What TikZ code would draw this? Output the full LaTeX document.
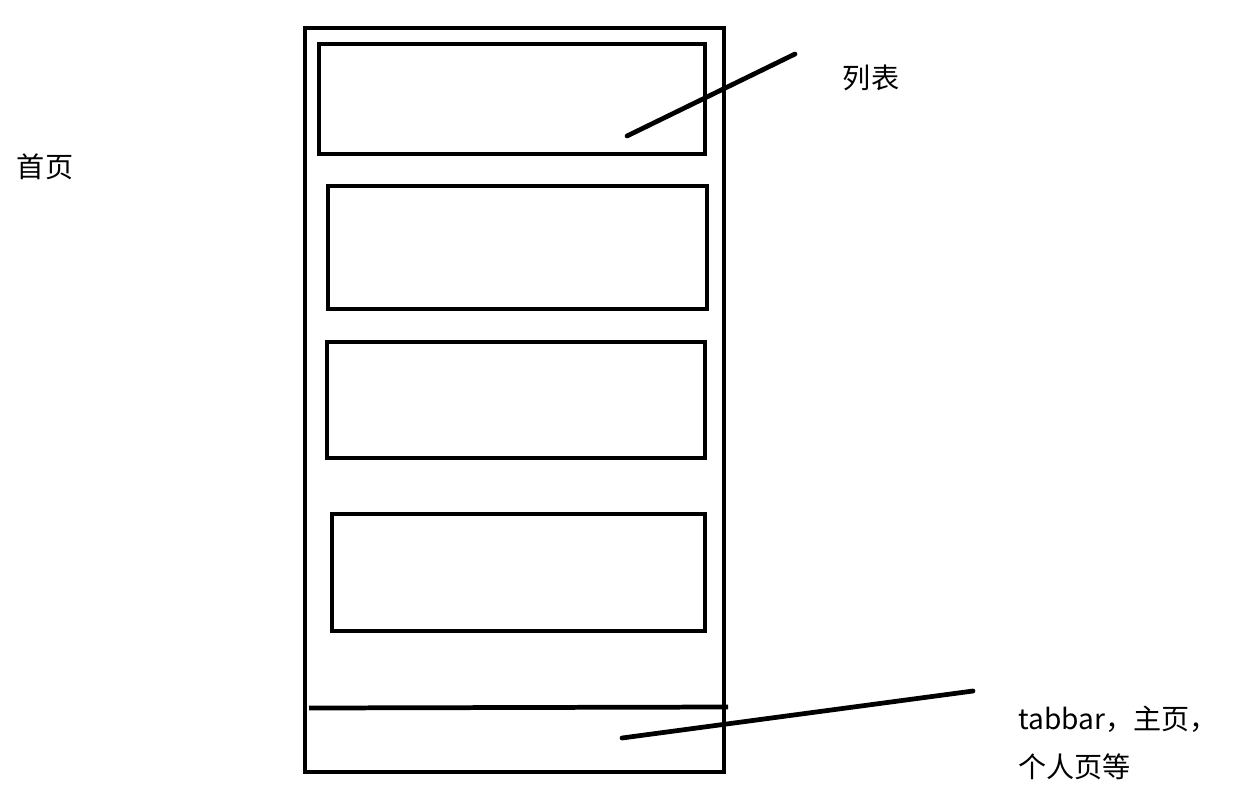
\documentclass[tikz,border=0pt]{standalone}
\usepackage{fontspec}
\setmainfont{Noto Sans CJK SC}
\usetikzlibrary{positioning,calc}
\tikzset{
  frame/.style={draw,line width=2.7pt},
  pointer/.style={draw,line width=2.7pt,line cap=round},
  label/.style={font=\fontsize{16}{27}\selectfont,inner sep=0pt}
}
\begin{document}
\begin{tikzpicture}[x=0.02cm,y=-0.02cm]
  \useasboundingbox (0,0) rectangle (1241,792);
  % phone outline
  \draw[frame] (305,28) rectangle (724,772);
  % list cards
  \draw[frame] (319,44) rectangle (705,154);
  \draw[frame] (328,186) rectangle (707,309);
  \draw[frame] (327,342) rectangle (705,458);
  \draw[frame] (332,514) rectangle (705,631);
  % tabbar divider
  \coordinate (tabL) at (309,708);
  \coordinate (tabR) at (728,707);
  \draw[frame] (tabL) -- (tabR);
  % labels
  \node[label] (home) at (45,167) {首页};
  \node[label] (list) at (871,78) {列表};
  \node[label,anchor=west,align=left] (tabbar) at (1018,743) {tabbar，主页，\\个人页等};
  % pointers
  \coordinate (listTip) at (627,136);
  \coordinate (listEnd) at (795,54);
  \draw[pointer] (listTip) -- (listEnd);
  \coordinate (tabTip) at (622,738);
  \coordinate (tabEnd) at (973,691);
  \draw[pointer] (tabTip) -- (tabEnd);
\end{tikzpicture}
\end{document}
